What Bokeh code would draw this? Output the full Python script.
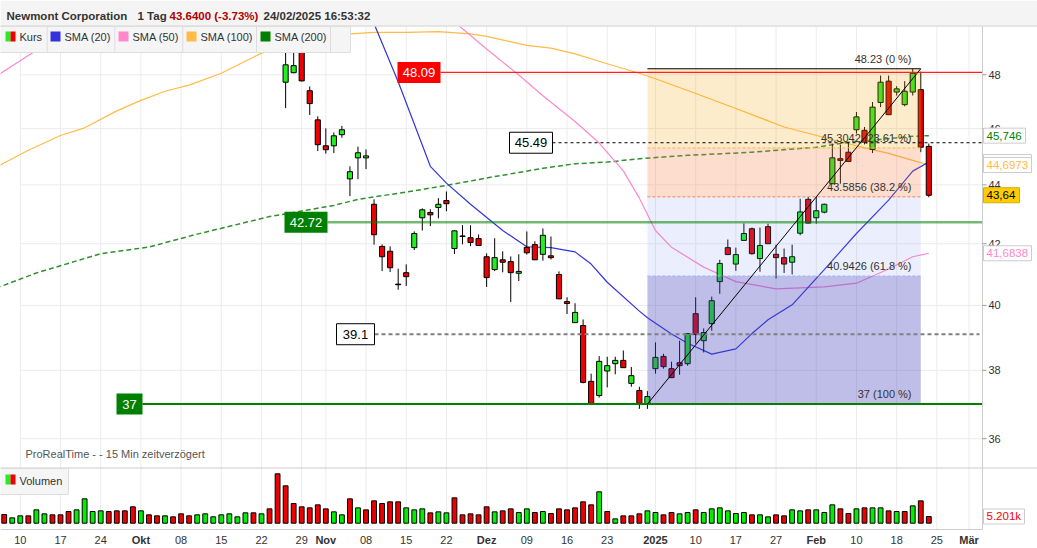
import math
from bokeh.plotting import figure
from bokeh.models import Range1d, LinearScale, LogScale, ColumnDataSource
from bokeh.core.properties import value
from bokeh.embed import file_html
from bokeh.resources import INLINE

FONT = "Liberation Sans"

# ---------------- data ----------------
# daily candles, trading-day index 0 = 10 Sep 2024; first visible candle idx 33
candle_first_idx = 33
c_open = [47.72, 48.08, 49.02, 47.40, 46.32, 45.38, 45.38, 45.78, 44.21, 44.95, 44.95,
          43.33, 41.91, 41.75, 40.68, 41.05, 41.87, 42.87, 43.05, 43.22, 43.46, 41.84,
          42.24, 42.20, 42.17, 41.57, 41.15, 41.47, 41.41, 41.03, 41.88, 41.97, 41.65,
          41.60, 40.99, 40.12, 39.46, 39.37, 37.67, 37.25, 37.98, 38.20, 38.30, 37.61,
          37.40, 37.00, 38.05, 38.42, 38.05, 38.23, 38.20, 39.74, 38.90, 39.43, 40.76,
          41.87, 41.33, 42.11, 42.50, 41.51, 42.57, 41.65, 41.54, 41.39, 42.35, 43.50,
          42.87, 43.06, 44.04, 44.92, 45.15, 45.96, 45.94, 45.25, 46.96, 47.76, 47.35,
          46.88, 47.35, 47.44, 45.36]
c_high = [49.52, 49.13, 49.35, 47.56, 46.45, 46.01, 45.86, 46.10, 44.65, 45.35, 45.25,
          43.50, 41.98, 41.91, 41.18, 41.32, 42.41, 43.19, 43.16, 43.54, 43.77, 42.45,
          42.62, 42.62, 42.31, 41.68, 42.18, 41.75, 41.58, 41.65, 42.41, 42.08, 42.51,
          42.24, 41.09, 40.26, 40.07, 39.56, 37.90, 38.43, 38.41, 38.41, 38.60, 38.10,
          37.51, 37.38, 38.85, 38.50, 38.26, 38.90, 39.13, 40.26, 39.28, 40.28, 41.47,
          42.14, 41.87, 42.68, 42.54, 42.54, 42.67, 41.97, 41.84, 41.97, 43.52, 43.58,
          43.58, 43.35, 45.46, 45.42, 45.48, 46.61, 46.06, 46.98, 47.97, 47.97, 47.57,
          47.76, 48.23, 48.12, 45.46]
c_low = [46.75, 48.06, 47.75, 46.50, 45.19, 45.10, 45.12, 45.67, 43.61, 44.20, 44.55,
         41.97, 41.10, 41.07, 40.50, 40.62, 41.79, 42.44, 42.59, 42.85, 43.09, 41.66,
         41.98, 41.92, 41.93, 40.59, 41.10, 41.06, 40.11, 40.78, 41.64, 41.46, 41.44,
         41.48, 40.20, 39.73, 39.45, 37.61, 36.97, 37.19, 37.49, 37.88, 38.07, 37.51,
         36.86, 36.86, 37.90, 38.05, 37.77, 37.87, 38.14, 38.81, 38.54, 39.21, 40.37,
         41.63, 41.11, 42.10, 41.64, 41.08, 41.99, 40.86, 41.04, 40.99, 42.28, 42.68,
         42.67, 43.02, 44.03, 44.04, 44.80, 45.82, 45.43, 45.12, 46.79, 46.50, 47.22,
         46.82, 47.22, 45.15, 43.57]
c_close = [48.38, 48.35, 47.77, 46.92, 45.42, 45.24, 45.74, 45.96, 44.46, 45.13, 45.02,
           42.30, 41.57, 41.21, 40.66, 40.92, 42.34, 43.14, 42.97, 43.33, 43.35, 42.43,
           42.26, 42.04, 41.94, 40.89, 41.54, 41.39, 41.05, 41.09, 41.70, 41.47, 42.28,
           41.54, 40.21, 40.06, 39.78, 37.64, 37.00, 38.27, 38.14, 38.30, 38.08, 37.84,
           37.00, 37.22, 38.39, 38.11, 37.78, 38.14, 39.12, 39.09, 39.15, 40.15, 41.35,
           41.64, 41.64, 42.34, 41.67, 41.94, 42.00, 41.54, 41.33, 41.57, 43.07, 42.69,
           43.11, 43.33, 44.95, 44.86, 44.82, 46.43, 45.51, 46.79, 47.72, 46.51, 47.47,
           47.38, 48.06, 45.33, 43.64]

# volume (thousands), first bar idx -2
vol_first_idx = -2
volume_k = [6.73, 4.14, 5.69, 5.69, 10.35, 7.24, 6.47, 6.47, 9.05, 10.35, 18.89, 9.05,
            9.57, 9.05, 9.57, 9.57, 12.68, 9.57, 6.47, 5.69, 5.69, 4.92, 7.24, 5.69,
            6.47, 7.24, 4.92, 6.47, 7.24, 4.92, 8.02, 8.02, 7.24, 11.12, 38.29, 28.97,
            15.26, 12.68, 11.90, 14.23, 11.12, 8.80, 6.47, 18.89, 11.90, 10.35, 17.33,
            15.26, 16.56, 16.56, 11.90, 10.35, 11.12, 8.02, 8.80, 8.02, 19.66, 6.47,
            7.24, 6.47, 12.68, 8.80, 9.57, 11.12, 8.28, 11.12, 8.28, 9.05, 7.50, 11.12,
            10.35, 11.90, 16.56, 14.23, 24.32, 9.05, 3.36, 5.69, 5.69, 7.24, 9.57, 8.28,
            6.47, 8.28, 7.24, 8.28, 10.35, 8.28, 11.12, 11.90, 9.57, 7.50, 8.28, 6.47,
            6.47, 4.92, 6.47, 5.69, 10.35, 9.57, 10.35, 10.35, 8.28, 14.23, 11.12, 7.50,
            11.12, 11.90, 11.90, 11.90, 9.57, 9.05, 9.05, 13.45, 17.33, 5.201]
volume_up = [0, 1, 1, 0, 1, 1, 0, 0, 0, 1, 1, 1, 1, 0, 0, 0, 0, 1, 0, 0, 1, 0, 0, 0,
             1, 1, 1, 1, 1, 1, 1, 0, 1, 0, 0, 0, 0, 0, 0, 0, 0, 1, 1, 0, 1, 0, 0, 0,
             0, 0, 1, 1, 1, 0, 1, 1, 0, 0, 0, 0, 0, 1, 0, 0, 1, 1, 0, 1, 0, 0, 0, 0,
             0, 0, 1, 0, 1, 0, 0, 0, 1, 1, 0, 0, 1, 1, 0, 1, 1, 1, 1, 1, 1, 0, 1, 1,
             0, 0, 1, 1, 0, 1, 1, 1, 0, 0, 1, 0, 1, 1, 0, 1, 0, 1, 0, 0]

# moving averages (index, value)
sma20_idx = [43, 44, 47, 51, 53, 56, 60, 63, 66, 69, 71, 73, 77, 78, 81, 83, 86, 89,
             91, 93, 96, 100, 104, 108, 111, 113]
sma20_val = [50.70, 49.98, 47.74, 44.65, 44.06, 43.33, 42.44, 41.90, 41.87, 41.73,
             41.33, 40.74, 39.82, 39.61, 39.11, 38.82, 38.49, 38.65, 39.12, 39.55,
             40.02, 41.15, 42.34, 43.47, 44.48, 44.80]
sma50_idx = [-3, 1, 4, 20, 54, 55, 58, 62, 65, 69, 72, 75, 77, 79, 81, 85, 89, 94,
             100, 104, 108, 111, 113]
sma50_val = [47.95, 48.74, 49.32, float("nan"), 50.04, 49.78, 48.99, 47.99, 47.21,
             46.26, 45.48, 44.49, 43.54, 42.44, 41.88, 41.23, 40.76, 40.53, 40.59,
             40.71, 41.17, 41.57, 41.6838]
sma100_idx = [-3, 1, 5, 8, 12, 15, 18, 21, 25, 30, 35, 41, 44, 48, 52, 56, 58, 63, 66,
              69, 73, 77, 79, 83, 89, 95, 100, 104, 108, 111, 113]
sma100_val = [44.62, 45.22, 45.75, 46.03, 46.65, 47.04, 47.38, 47.61, 48.06, 48.83,
              49.24, 49.58, 49.64, 49.64, 49.67, 49.58, 49.48, 49.13, 49.02, 48.80,
              48.42, 48.06, 47.85, 47.41, 46.74, 46.06, 45.68, 45.38, 45.11, 44.86,
              44.6973]
sma200_idx = [-3, 2, 10, 16, 22, 31, 39, 42, 48, 53, 58, 65, 69, 73, 77, 83, 91, 99,
              103, 111, 113]
sma200_val = [40.55, 41.04, 41.67, 41.89, 42.32, 42.91, 43.29, 43.50, 43.75, 43.98,
              44.24, 44.58, 44.74, 44.80, 44.92, 45.04, 45.15, 45.33, 45.51, 45.72,
              45.746]

# x-axis ticks (trading-day index) and their labels
tick_idx = [0, 5, 10, 15, 20, 25, 30, 35, 38, 43, 48, 53, 58, 63, 68, 73, 79, 84, 89,
            94, 99, 104, 109, 114, 118]
tick_lbl = ["10", "17", "24", "Okt", "08", "15", "22", "29", "Nov", "08", "15", "22",
            "Dez", "09", "16", "23", "2025", "10", "17", "27", "Feb", "10", "18", "25",
            "Mär"]
month_lbl = {"Okt", "Nov", "Dez", "2025", "Feb", "Mär"}
price_ticks = [36, 38, 40, 42, 44, 46, 48]

# Fibonacci retracement
fib_idx = [78, 112]
fib_levels = [48.23, 45.3042, 43.5856, 40.9426, 37.0]
fib_text = ["48.23 (0 %)", "45.3042 (23.61 %)", "43.5856 (38.2 %)",
            "40.9426 (61.8 %)", "37 (100 %)"]
fib_fill = ["#f5aa14", "#f5783c", "#7896f0", "#4646be"]
fib_alpha = [0.22, 0.25, 0.15, 0.35]
fib_line = ["#000000", "#ffb833", "#ff7f50", "#a0b4ff"]

# horizontal levels
level_vals = [48.09, 45.49, 42.72, 39.1, 37.0]
level_text = ["48.09", "45.49", "42.72", "39.1", "37"]

# last values (right-hand boxes)
last_sma200, last_sma100, last_sma20 = 45.746, 44.6973, 44.80
last_price, last_sma50, last_vol = 43.64, 41.6838, 5.201

# ---------------- layout calibration (pixels of the 1037x548 picture) ----------------
W, H = 1037, 548
PX0, PXI = 19.8, 8.04           # pixel of idx 0, pixels per bar
Y48, PLN = 74.3, 1265.0          # pixel of price 48, pixels per ln unit
AXX, TOPY, SEPY, AXY = 982, 26, 467.5, 529   # right axis x, panel top, separator, x-axis y
VB, VPX = 522.7, 1.2902          # volume baseline pixel, pixels per k


def px2idx(x):
    return (x - PX0) / PXI


def px2price(y):
    return 48 * math.exp((Y48 - y) / PLN)


p = figure(width=W, height=H, x_range=Range1d(px2idx(0), px2idx(W)),
           y_range=Range1d(px2price(H), px2price(0)), x_axis_type=None, y_axis_type=None,
           toolbar_location=None, output_backend="svg", min_border=0)
p.y_scale = LogScale()
p.extra_x_ranges = {"px": Range1d(0, W)}
p.extra_x_scales = {"px": LinearScale()}
p.extra_y_ranges = {"px": Range1d(H, 0), "vol": Range1d((VB - H) / VPX, VB / VPX)}
p.extra_y_scales = {"px": LinearScale(), "vol": LinearScale()}
p.outline_line_color = None
p.grid.visible = False
p.background_fill_color = "white"
p.border_fill_color = "white"

TXT = dict(text_font=value(FONT), text_font_size="11px", text_color="#333333")

# grid
p.segment(x0=[0] * len(price_ticks), y0=price_ticks, x1=[px2idx(AXX)] * len(price_ticks),
          y1=price_ticks, line_color="#ececec", line_width=1)
p.segment(x0=tick_idx, y0=[TOPY] * len(tick_idx), x1=tick_idx, y1=[AXY] * len(tick_idx),
          y_range_name="px", line_color="#ececec", line_width=1)

# moving averages
p.line(sma100_idx, sma100_val, line_color="#ffbb44", line_width=1.2)
p.line(sma200_idx, sma200_val, line_color="#2f8f2f", line_width=1.5, line_dash="5 3")
p.line(sma50_idx, sma50_val, line_color="#ff88cc", line_width=1.2)
p.line(sma20_idx, sma20_val, line_color="#3333dd", line_width=1.2)

# candles
cidx = [candle_first_idx + i for i in range(len(c_open))]
csrc = ColumnDataSource(dict(
    x=cidx, lo=c_low, hi=c_high,
    top=[max(o, c) for o, c in zip(c_open, c_close)],
    bot=[min(o, c) for o, c in zip(c_open, c_close)],
    col=["#22ee22" if c >= o else "#ee0000" for o, c in zip(c_open, c_close)]))
p.segment(x0="x", y0="lo", x1="x", y1="hi", source=csrc, line_color="black", line_width=1)
p.vbar(x="x", top="top", bottom="bot", width=0.64, source=csrc, fill_color="col",
       line_color="black", line_width=1)

# volume
vidx = [vol_first_idx + i for i in range(len(volume_k))]
vsrc = ColumnDataSource(dict(x=vidx, top=volume_k, bottom=[0] * len(volume_k),
                             col=["#00ee00" if u else "#ee0000" for u in volume_up]))
p.vbar(x="x", top="top", bottom="bottom", width=0.6, source=vsrc, fill_color="col",
       line_color="black", line_width=1, y_range_name="vol")

# Fibonacci zones
for i in range(4):
    p.quad(left=[fib_idx[0]], right=[fib_idx[1]], top=[fib_levels[i]], bottom=[fib_levels[i + 1]],
           fill_color=fib_fill[i], fill_alpha=fib_alpha[i], line_color=None)
p.segment(x0=[fib_idx[0]], y0=[fib_levels[0]], x1=[fib_idx[1]], y1=[fib_levels[0]],
          line_color="black", line_width=1.2)
for i in range(1, 4):
    p.segment(x0=[fib_idx[0]], y0=[fib_levels[i]], x1=[fib_idx[1]], y1=[fib_levels[i]],
              line_color=fib_line[i], line_width=1, line_dash="3 2")

# horizontal levels
box_lr = [(397, 440), (509, 552), (284, 327), (336, 374), (116, 142)]
box_fill = ["#ff0000", "#ffffff", "#008000", "#ffffff", "#008000"]
box_line = [None, "#000000", None, "#000000", None]
box_txt = ["white", "black", "white", "black", "white"]
lvl_col = ["#ff2020", "#000000", "#008000", "#808080", "#008000"]
lvl_w = [1.2, 1, 2.5, 2, 2]
lvl_a = [1, 1, 0.55, 1, 1]
lvl_dash = ["solid", "3 3", "solid", "4 3", "solid"]
lvl_end = [AXX, AXX, AXX, 979, AXX]
for i, v in enumerate(level_vals):
    p.segment(x0=[box_lr[i][1]], y0=[v], x1=[lvl_end[i]], y1=[v], x_range_name="px",
              line_color=lvl_col[i], line_width=lvl_w[i], line_alpha=lvl_a[i],
              line_dash=lvl_dash[i])

# trend line of the retracement
p.line([fib_idx[0], fib_idx[1]], [fib_levels[-1], fib_levels[0]], line_color="black", line_width=1)

for i, v in enumerate(level_vals):
    l, r = box_lr[i]
    p.rect(x=[(l + r) / 2], y=[v], width=r - l, height=21, height_units="screen",
           x_range_name="px", fill_color=box_fill[i], line_color=box_line[i], line_width=1)
    p.text(x=[(l + r) / 2], y=[v], text=[level_text[i]], x_range_name="px",
           text_align="center", text_baseline="middle", text_font=value(FONT),
           text_font_size="13px", text_color=box_txt[i])

# fib texts
p.text(x=[911] * 5, y=fib_levels, text=fib_text, x_range_name="px", y_offset=-10,
       text_align="right", text_baseline="middle", **TXT)

# watermark
p.text(x=[25], y=[453], text=["ProRealTime - - 15 Min zeitverzögert"], x_range_name="px",
       y_range_name="px", text_align="left", text_baseline="middle", text_font=value(FONT),
       text_font_size="11px", text_color="#555555")

# header
p.quad(left=[0], right=[W], top=[0], bottom=[TOPY], x_range_name="px", y_range_name="px",
       fill_color="#f4f4f4", line_color=None)
p.segment(x0=[0], y0=[TOPY - 0.5], x1=[W], y1=[TOPY - 0.5], x_range_name="px",
          y_range_name="px", line_color="#d4d4d4")
p.text(x=[6, 137, 169, 263], y=[15] * 4,
       text=["Newmont Corporation", "1 Tag", "43.6400 (-3.73%)", "24/02/2025 16:53:32"],
       x_range_name="px", y_range_name="px", text_align="left", text_baseline="middle",
       text_font=value(FONT), text_font_size="11.5px", text_font_style="bold",
       text_color=["#333333", "#333333", "#b00000", "#333333"])

# legend bar (top)
p.quad(left=[-1], right=[350], top=[TOPY], bottom=[52], x_range_name="px", y_range_name="px",
       fill_color="#f5f5f5", line_color="#dddddd")
p.segment(x0=[46.7, 114.3, 182.3, 256, 330], y0=[TOPY] * 5, x1=[46.7, 114.3, 182.3, 256, 330],
          y1=[52] * 5, x_range_name="px", y_range_name="px", line_color="#dddddd")
p.quad(left=[5, 10, 50, 118, 186, 260], right=[10, 15, 60, 128, 196, 270],
       top=[31] * 6, bottom=[41] * 6, x_range_name="px", y_range_name="px",
       fill_color=["#22ee22", "#ee0000", "#3333dd", "#ff88cc", "#ffbb44", "#008000"],
       line_color=None)
p.text(x=[19, 64, 132, 200, 274], y=[36.5] * 5,
       text=["Kurs", "SMA (20)", "SMA (50)", "SMA (100)", "SMA (200)"],
       x_range_name="px", y_range_name="px", text_align="left", text_baseline="middle", **TXT)

# panel separator
p.segment(x0=[0], y0=[SEPY], x1=[W], y1=[SEPY], x_range_name="px", y_range_name="px",
          line_color="#cccccc", line_width=1)

# legend (volume)
p.quad(left=[-1], right=[68], top=[SEPY + 0.5], bottom=[494], x_range_name="px", y_range_name="px",
       fill_color="#f5f5f5", line_color="#dddddd")
p.quad(left=[5, 10], right=[10, 15], top=[474, 474], bottom=[484, 484], x_range_name="px",
       y_range_name="px", fill_color=["#22ee22", "#ee0000"], line_color=None)
p.text(x=[19], y=[480], text=["Volumen"], x_range_name="px", y_range_name="px",
       text_align="left", text_baseline="middle", **TXT)

# axes (drawn)
p.segment(x0=[AXX], y0=[TOPY], x1=[AXX], y1=[AXY], x_range_name="px", y_range_name="px",
          line_color="#cccccc", line_width=1)
p.segment(x0=[0], y0=[AXY], x1=[AXX], y1=[AXY], x_range_name="px", y_range_name="px",
          line_color="#cccccc", line_width=1)
p.segment(x0=[AXX] * len(price_ticks), y0=price_ticks, x1=[AXX + 4] * len(price_ticks),
          y1=price_ticks, x_range_name="px", line_color="#999999", line_width=1)
p.text(x=[AXX + 6] * len(price_ticks), y=price_ticks, text=[str(t) for t in price_ticks],
       x_range_name="px", text_align="left", text_baseline="middle", **TXT)
norm = [(t, l) for t, l in zip(tick_idx, tick_lbl) if l not in month_lbl]
bold = [(t, l) for t, l in zip(tick_idx, tick_lbl) if l in month_lbl]
p.text(x=[t for t, _ in norm], y=[539] * len(norm), text=[l for _, l in norm],
       y_range_name="px", text_align="center", text_baseline="middle", **TXT)
p.text(x=[t for t, _ in bold], y=[539] * len(bold), text=[l for _, l in bold],
       y_range_name="px", text_align="center", text_baseline="middle",
       text_font_style="bold", **TXT)

# right-hand value boxes
boxes = [  # value, text, text colour, fill, border, right edge px, y range
    (last_sma200, "45,746", "#008000", "white", "#cccccc", 1025, "default"),
    (last_sma20, "", "#3333dd", "white", "#cccccc", 1031, "default"),
    (last_sma100, "44,6973", "#ffbb44", "white", "#cccccc", 1031, "default"),
    (last_price, "43,64", "#000000", "#ffcc00", "#d9aa00", 1019, "default"),
    (last_sma50, "41,6838", "#ff88cc", "white", "#cccccc", 1031, "default"),
    (last_vol, "5.201k", "#ff0000", "white", "#cccccc", 1024, "vol"),
]
for val, txt, tc, bg, bc, right, rng in boxes:
    p.rect(x=[(983 + right) / 2], y=[val], width=right - 983, height=15,
           height_units="screen", x_range_name="px", y_range_name=rng,
           fill_color=bg, line_color=bc, line_width=1)
    if txt:
        p.text(x=[986], y=[val], text=[txt], x_range_name="px", y_range_name=rng,
               text_align="left", text_baseline="middle", text_font=value(FONT),
               text_font_size="11.5px", text_color=tc)

open("out.html", "w").write(file_html(p, INLINE))
